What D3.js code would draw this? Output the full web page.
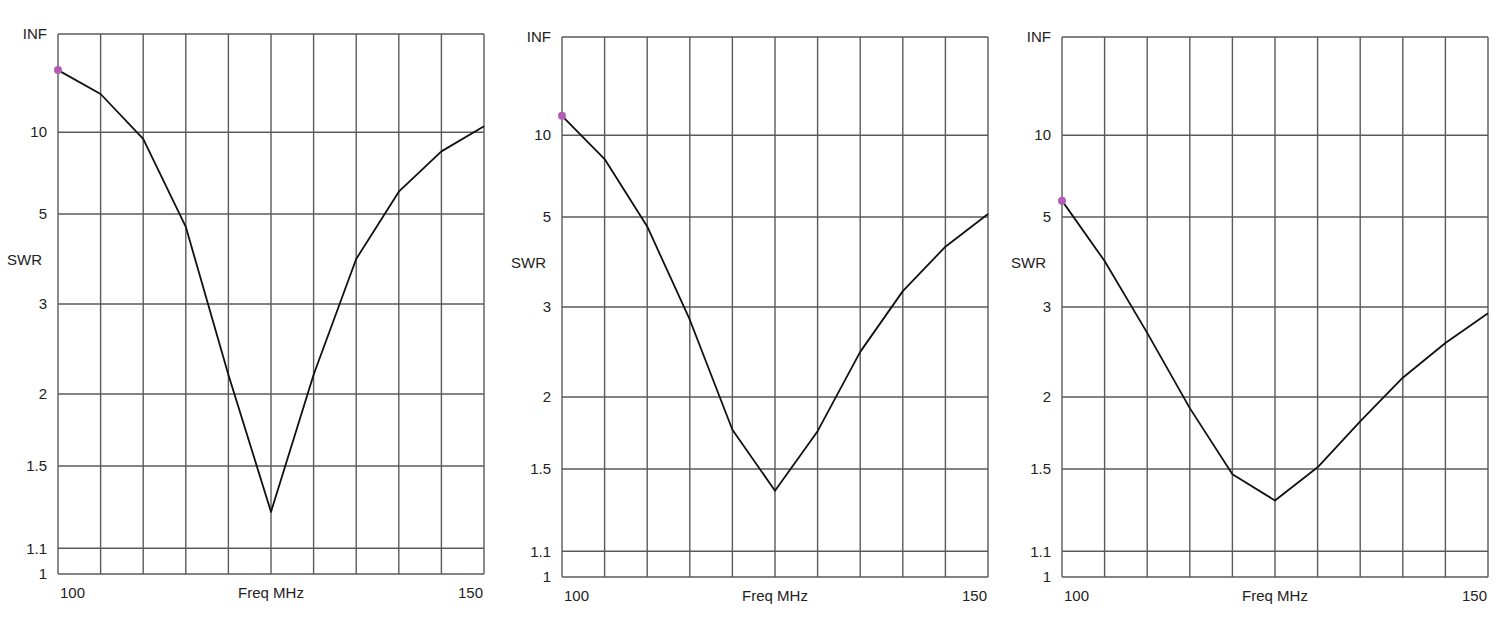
<!DOCTYPE html>
<html>
<head>
<meta charset="utf-8">
<script src="https://cdn.jsdelivr.net/npm/d3@7"></script>
<style>
  html, body { margin: 0; padding: 0; background: #fff; }
  svg { display: block; }
  text { font-family: Arial, "Liberation Sans", sans-serif; fill: #222; }
</style>
</head>
<body>
<svg id="chart" width="1500" height="629"></svg>
<script>
// Frequencies (MHz)
const freqs = [100, 105, 110, 115, 120, 125, 130, 135, 140, 145, 150];
// SWR values for each panel
const swrA = [28.9, 17.0, 9.3, 4.6, 2.17, 1.26, 2.17, 3.8, 5.85, 8.2, 10.7];
const swrB = [12.7, 7.85, 4.7, 2.82, 1.75, 1.38, 1.74, 2.43, 3.25, 4.15, 5.1];
const swrC = [5.6, 3.82, 2.65, 1.91, 1.47, 1.33, 1.51, 1.81, 2.17, 2.53, 2.91];
// Y tick values and labels
const yTicks = [1, 1.1, 1.5, 2, 3, 5, 10, Infinity];
const yTickLabels = ["1", "1.1", "1.5", "2", "3", "5", "10", "INF"];
const xTickLabels = ["100", "150"];
const xTitle = "Freq MHz";
const yTitle = "SWR";

const panels = [
  { data: swrA, left: 58, right: 484, top: 34, bottom: 574 },
  { data: swrB, left: 562, right: 988, top: 37, bottom: 577 },
  { data: swrC, left: 1062, right: 1488, top: 37, bottom: 577 }
];

// reflection coefficient transform for SWR scale
const rho = s => (s === Infinity ? 1 : (s - 1) / (s + 1));

const svg = d3.select("#chart");
const gridColor = "#5a5a5a";

panels.forEach(p => {
  const x = d3.scaleLinear().domain([100, 150]).range([p.left, p.right]);
  const yLin = d3.scaleLinear().domain([0, 1]).range([p.bottom, p.top]);
  const y = s => yLin(rho(s));
  const g = svg.append("g");

  // vertical grid
  g.selectAll("line.v").data(freqs).enter().append("line")
    .attr("x1", d => x(d)).attr("x2", d => x(d))
    .attr("y1", p.top).attr("y2", p.bottom)
    .attr("stroke", gridColor).attr("stroke-width", 1.4);

  // horizontal grid
  g.selectAll("line.h").data(yTicks).enter().append("line")
    .attr("x1", p.left).attr("x2", p.right)
    .attr("y1", d => y(d)).attr("y2", d => y(d))
    .attr("stroke", gridColor).attr("stroke-width", 1.4);

  // y tick labels
  g.selectAll("text.yt").data(yTicks).enter().append("text")
    .attr("x", p.left - 11).attr("y", d => y(d))
    .attr("dy", "0.35em").attr("text-anchor", "end")
    .attr("font-size", 15)
    .text((d, i) => yTickLabels[i]);

  // y title
  g.append("text")
    .attr("x", p.left - 51).attr("y", (p.top + p.bottom) / 2 - 44)
    .attr("dy", "0.35em").attr("font-size", 15)
    .text(yTitle);

  // x tick labels
  g.append("text").attr("x", x(100) + 2).attr("y", p.bottom + 19)
    .attr("dy", "0.35em").attr("text-anchor", "start").attr("font-size", 15)
    .text(xTickLabels[0]);
  g.append("text").attr("x", x(150) - 1).attr("y", p.bottom + 19)
    .attr("dy", "0.35em").attr("text-anchor", "end").attr("font-size", 15)
    .text(xTickLabels[1]);
  g.append("text").attr("x", x(125)).attr("y", p.bottom + 19)
    .attr("dy", "0.35em").attr("text-anchor", "middle").attr("font-size", 15)
    .text(xTitle);

  // curve
  const line = d3.line().x((d, i) => x(freqs[i])).y(d => y(d));
  g.append("path").datum(p.data)
    .attr("d", line)
    .attr("fill", "none").attr("stroke", "#111").attr("stroke-width", 1.8)
    .attr("stroke-linejoin", "round");

  // marker at first point
  g.append("circle")
    .attr("cx", x(freqs[0])).attr("cy", y(p.data[0]))
    .attr("r", 4).attr("fill", "#b45cb4");
});
</script>
</body>
</html>
